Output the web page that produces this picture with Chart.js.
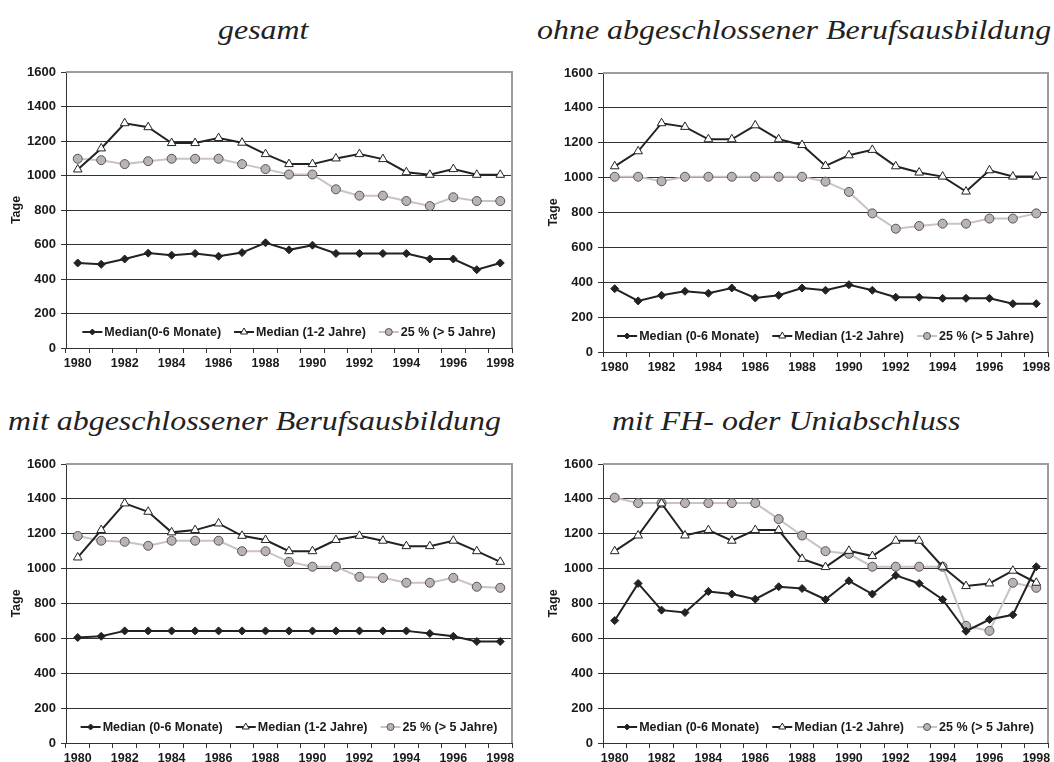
<!DOCTYPE html>
<html>
<head>
<meta charset="utf-8">
<script src="https://cdn.jsdelivr.net/npm/chart.js@4.4.0/dist/chart.umd.min.js"></script>
<style>
body { margin: 0; width: 1054px; height: 762px; overflow: hidden; background: #fff; position: relative; }
.box { position: absolute; }
.titel { position: absolute; font-family: "Liberation Serif", "Times New Roman", serif; font-style: italic; font-size: 28px; line-height: 28px; white-space: nowrap; color: #222; transform: scaleX(1.14); transform-origin: left top; }
</style>
</head>
<body>
<div class="titel" style="left:218px;top:16px">gesamt</div>
<div class="titel" style="left:537px;top:16px">ohne abgeschlossener Berufsausbildung</div>
<div class="titel" style="left:8px;top:407px">mit abgeschlossener Berufsausbildung</div>
<div class="titel" style="left:612px;top:407px">mit FH- oder Uniabschluss</div>

<div class="box" style="left:0;top:55px"><canvas id="gesamt" width="520" height="320"></canvas></div>
<div class="box" style="left:520px;top:55px"><canvas id="ohne" width="534" height="320"></canvas></div>
<div class="box" style="left:0;top:445px"><canvas id="mit" width="520" height="317"></canvas></div>
<div class="box" style="left:520px;top:445px"><canvas id="fh" width="534" height="317"></canvas></div>

<script>
var years = ['1980', '1981', '1982', '1983', '1984', '1985', '1986', '1987', '1988', '1989',
             '1990', '1991', '1992', '1993', '1994', '1995', '1996', '1997', '1998'];
var yTicks = [0, 200, 400, 600, 800, 1000, 1200, 1400, 1600];

// gesamt
var gesamtKurz   = [493, 485, 516, 550, 538, 548, 532, 553, 610, 569, 596, 548, 548, 548, 548, 516, 516, 454, 493];
var gesamtMittel = [1035, 1157, 1303, 1280, 1188, 1188, 1217, 1190, 1124, 1066, 1066, 1099, 1124, 1095, 1019, 1004, 1037, 1004, 1004];
var gesamtLang   = [1097, 1089, 1066, 1083, 1097, 1097, 1097, 1066, 1037, 1006, 1006, 920, 883, 883, 852, 823, 874, 852, 852];

// ohne abgeschlossener Berufsausbildung
var ohneKurz   = [363, 293, 325, 348, 337, 367, 310, 325, 367, 354, 386, 354, 314, 314, 308, 308, 308, 277, 277];
var ohneMittel = [1065, 1151, 1312, 1291, 1220, 1220, 1300, 1220, 1187, 1067, 1128, 1159, 1065, 1029, 1006, 920, 1042, 1006, 1006];
var ohneLang   = [1005, 1005, 979, 1005, 1005, 1005, 1005, 1005, 1005, 977, 918, 795, 707, 723, 736, 736, 765, 765, 795];

// mit abgeschlossener Berufsausbildung
var mitKurz   = [605, 612, 643, 643, 643, 643, 643, 643, 643, 643, 643, 643, 643, 643, 643, 628, 612, 582, 582];
var mitMittel = [1064, 1221, 1374, 1326, 1208, 1221, 1259, 1188, 1164, 1100, 1100, 1164, 1188, 1160, 1129, 1129, 1160, 1100, 1039];
var mitLang   = [1187, 1160, 1154, 1131, 1160, 1160, 1160, 1100, 1100, 1039, 1011, 1011, 953, 947, 919, 919, 947, 896, 890];

// mit FH- oder Uniabschluss
var fhKurz   = [702, 915, 762, 748, 869, 854, 825, 896, 886, 823, 930, 854, 961, 915, 823, 641, 708, 735, 1011];
var fhMittel = [1100, 1190, 1374, 1190, 1221, 1160, 1221, 1221, 1056, 1009, 1102, 1072, 1160, 1160, 1011, 900, 915, 988, 919];
var fhLang   = [1407, 1376, 1376, 1376, 1376, 1376, 1376, 1284, 1190, 1100, 1085, 1011, 1011, 1011, 1011, 672, 643, 919, 890];

var labelsKurz = ['Median(0-6 Monate)', 'Median (0-6 Monate)'];
var labelMittel = 'Median (1-2 Jahre)';
var labelLang = '25 % (> 5 Jahre)';

Chart.defaults.font.family = '"Liberation Sans", Arial, sans-serif';
Chart.defaults.font.weight = 'bold';
Chart.defaults.font.size = 12;
Chart.defaults.color = '#1a1a1a';

// legend drawn inside the plot, centred near the bottom
var innerLegend = {
    id: 'innerLegend',
    afterDatasetsDraw: function(chart) {
        var ctx = chart.ctx;
        var area = chart.chartArea;
        var sets = chart.data.datasets;
        ctx.save();
        ctx.font = 'bold 12.5px "Liberation Sans", Arial, sans-serif';
        var widths = sets.map(function(d) { return ctx.measureText(d.label).width; });
        var total = 0;
        widths.forEach(function(w) { total += 22 + w; });
        total += 13 * (sets.length - 1);
        var x = (area.left + area.right) / 2 - total / 2;
        var y = area.bottom - 16;
        sets.forEach(function(d, i) {
            ctx.strokeStyle = d.borderColor;
            ctx.lineWidth = d.borderWidth;
            ctx.beginPath();
            ctx.moveTo(x, y);
            ctx.lineTo(x + 20, y);
            ctx.stroke();
            ctx.fillStyle = d.pointBackgroundColor;
            ctx.strokeStyle = d.pointBorderColor;
            ctx.lineWidth = d.pointBorderWidth;
            Chart.helpers.drawPoint(ctx, {pointStyle: d.pointStyle, radius: d.pointRadius - 1, borderWidth: d.pointBorderWidth, rotation: 0}, x + 10, y);
            ctx.fillStyle = '#1a1a1a';
            ctx.textAlign = 'left';
            ctx.textBaseline = 'middle';
            ctx.fillText(d.label, x + 22, y + 1);
            x += 22 + widths[i] + 13;
        });
        ctx.restore();
    }
};

// grey frame on top and right side of the plot
var frame = {
    id: 'frame',
    beforeDatasetsDraw: function(chart) {
        var a = chart.chartArea;
        var ctx = chart.ctx;
        ctx.save();
        ctx.strokeStyle = '#9d9d9d';
        ctx.lineWidth = 2;
        ctx.beginPath();
        ctx.moveTo(a.left, a.top);
        ctx.lineTo(a.right, a.top);
        ctx.lineTo(a.right, a.bottom);
        ctx.stroke();
        ctx.restore();
    }
};

var makeChart = function(id, kurz, mittel, lang, kurzLabel, geo) {
    return new Chart(id, {
        type: 'line',
        data: {
            labels: years,
            datasets: [
                {
                    label: kurzLabel,
                    data: kurz,
                    borderColor: '#222',
                    borderWidth: 2,
                    pointStyle: 'rectRot',
                    pointRadius: 4,
                    pointBackgroundColor: '#222',
                    pointBorderColor: '#222',
                    pointBorderWidth: 1
                },
                {
                    label: labelMittel,
                    data: mittel,
                    borderColor: '#222',
                    borderWidth: 2,
                    pointStyle: 'triangle',
                    pointRadius: 5,
                    pointBackgroundColor: '#fff',
                    pointBorderColor: '#222',
                    pointBorderWidth: 1
                },
                {
                    label: labelLang,
                    data: lang,
                    borderColor: '#cbc2c2',
                    borderWidth: 2,
                    pointStyle: 'circle',
                    pointRadius: 4.5,
                    pointBackgroundColor: '#bbb3b3',
                    pointBorderColor: '#555',
                    pointBorderWidth: 1
                }
            ]
        },
        options: {
            responsive: false,
            animation: false,
            layout: {padding: {left: 0, top: geo.top, right: geo.right, bottom: geo.bottom}},
            elements: {line: {tension: 0}},
            plugins: {
                legend: {display: false},
                tooltip: {enabled: false}
            },
            scales: {
                x: {
                    offset: true,
                    grid: {display: true, drawOnChartArea: false, drawTicks: true, tickLength: 5, color: '#333', offset: true},
                    border: {color: '#333', width: 1},
                    ticks: {
                        autoSkip: false,
                        maxRotation: 0,
                        padding: 3,
                        font: {size: 12.5, weight: 'bold'},
                        callback: function(v, i) { return i % 2 === 0 ? years[i] : ''; }
                    },
                    afterFit: function(s) { s.height = geo.xh; }
                },
                y: {
                    min: 0,
                    max: 1600,
                    afterBuildTicks: function(s) { s.ticks = yTicks.map(function(v) { return {value: v}; }); },
                    grid: {
                        tickLength: 5,
                        tickColor: '#333',
                        color: function(c) { return c.tick && c.tick.value === 1600 ? 'rgba(0,0,0,0)' : '#333'; }
                    },
                    border: {color: '#333', width: 1},
                    ticks: {
                        padding: 5,
                        font: {size: 13, weight: 'bold'},
                        callback: function(v) { return String(v); }
                    },
                    title: {display: true, text: 'Tage', font: {size: 12.5, weight: 'bold'}, padding: {top: geo.tp, bottom: 0}},
                    afterFit: function(s) { s.width = geo.yw; }
                }
            }
        },
        plugins: [frame, innerLegend]
    });
};

var chartGesamt = makeChart('gesamt', gesamtKurz, gesamtMittel, gesamtLang, labelsKurz[0],
    {top: 17, right: 8, bottom: 5, xh: 22, yw: 66, tp: 9});
var chartOhne = makeChart('ohne', ohneKurz, ohneMittel, ohneLang, labelsKurz[1],
    {top: 18, right: 4, bottom: 1, xh: 22, yw: 83, tp: 26});
var chartMit = makeChart('mit', mitKurz, mitMittel, mitLang, labelsKurz[1],
    {top: 19, right: 8, bottom: 0, xh: 19, yw: 66, tp: 9});
var chartFh = makeChart('fh', fhKurz, fhMittel, fhLang, labelsKurz[1],
    {top: 19, right: 4, bottom: 0, xh: 19, yw: 83, tp: 26});
</script>
</body>
</html>
